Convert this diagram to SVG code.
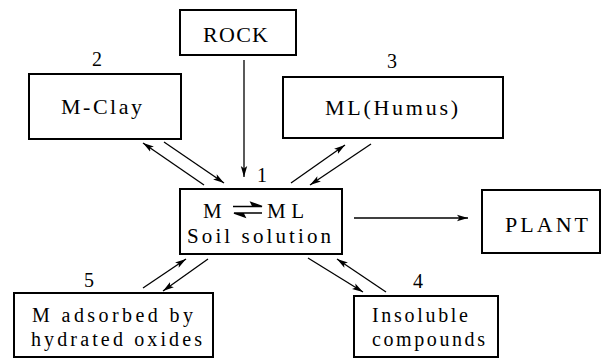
<svg xmlns="http://www.w3.org/2000/svg" width="602" height="359" viewBox="0 0 602 359">
<style>
.box{fill:#fff;stroke:#000;stroke-width:2}
.c{stroke:#000;stroke-width:1.3;fill:none}
</style>
<defs>
<marker id="ah" markerUnits="userSpaceOnUse" markerWidth="12" markerHeight="8" refX="11" refY="4" orient="auto">
<path d="M0,0.8 L11,4 L0,7.2 L2.5,4 Z" fill="#000"/>
</marker>
</defs>
<rect width="602" height="359" fill="#fff"/>
<g id="connectors">
<line class="c" x1="244" y1="60" x2="244" y2="177" marker-end="url(#ah)"/>
<line class="c" x1="204" y1="185" x2="143" y2="143" marker-end="url(#ah)"/>
<line class="c" x1="164" y1="142" x2="224" y2="183" marker-end="url(#ah)"/>
<line class="c" x1="291" y1="183" x2="345" y2="145" marker-end="url(#ah)"/>
<line class="c" x1="371" y1="144" x2="310" y2="185" marker-end="url(#ah)"/>
<line class="c" x1="143" y1="288" x2="186" y2="259" marker-end="url(#ah)"/>
<line class="c" x1="208" y1="259" x2="163" y2="291" marker-end="url(#ah)"/>
<line class="c" x1="308" y1="258" x2="363" y2="292" marker-end="url(#ah)"/>
<line class="c" x1="386" y1="292" x2="337" y2="259" marker-end="url(#ah)"/>
<line class="c" x1="354" y1="218" x2="468" y2="218" marker-end="url(#ah)"/>
</g>
<g font-family="Liberation Serif, Times New Roman, serif" font-size="22" fill="#000">
<g id="rock">
<rect class="box" x="180" y="10" width="116" height="45"/>
<text x="203" y="42" textLength="65">ROCK</text>
</g>
<g id="mclay">
<rect class="box" x="29" y="74" width="152" height="65"/>
<text x="61" y="114" textLength="81">M-Clay</text>
<text x="97" y="66" font-size="20" text-anchor="middle">2</text>
</g>
<g id="humus">
<rect class="box" x="283" y="77" width="220" height="61"/>
<text x="325" y="115" textLength="133">ML(Humus)</text>
<text x="392" y="68" font-size="20" text-anchor="middle">3</text>
</g>
<g id="soil">
<rect class="box" x="180" y="189" width="162" height="65"/>
<text x="203" y="218" font-size="21" textLength="19">M</text>
<path d="M233,206.5 H262 L251,202.5 L253,206.5" stroke="#000" stroke-width="1.4" fill="#000"/>
<path d="M262,213 H234 L245,217 L243,213" stroke="#000" stroke-width="1.4" fill="#000"/>
<text x="267" y="218" font-size="21" textLength="37">ML</text>
<text x="187" y="243" font-size="21" textLength="144">Soil solution</text>
<text x="262" y="182" font-size="20" text-anchor="middle">1</text>
</g>
<g id="plant">
<rect class="box" x="482" y="190" width="118" height="63"/>
<text x="505" y="232" textLength="83">PLANT</text>
</g>
<g id="adsorbed">
<rect class="box" x="14" y="293" width="199" height="64"/>
<text x="32" y="322" font-size="20" textLength="161">M adsorbed by</text>
<text x="31" y="346" font-size="20" textLength="171">hydrated oxides</text>
<text x="89" y="287" font-size="20" text-anchor="middle">5</text>
</g>
<g id="insoluble">
<rect class="box" x="354" y="296" width="144" height="61"/>
<text x="372" y="322" font-size="20" textLength="96">Insoluble</text>
<text x="372" y="346" font-size="20" textLength="113">compounds</text>
<text x="418" y="288" font-size="20" text-anchor="middle">4</text>
</g>
</g>
</svg>
